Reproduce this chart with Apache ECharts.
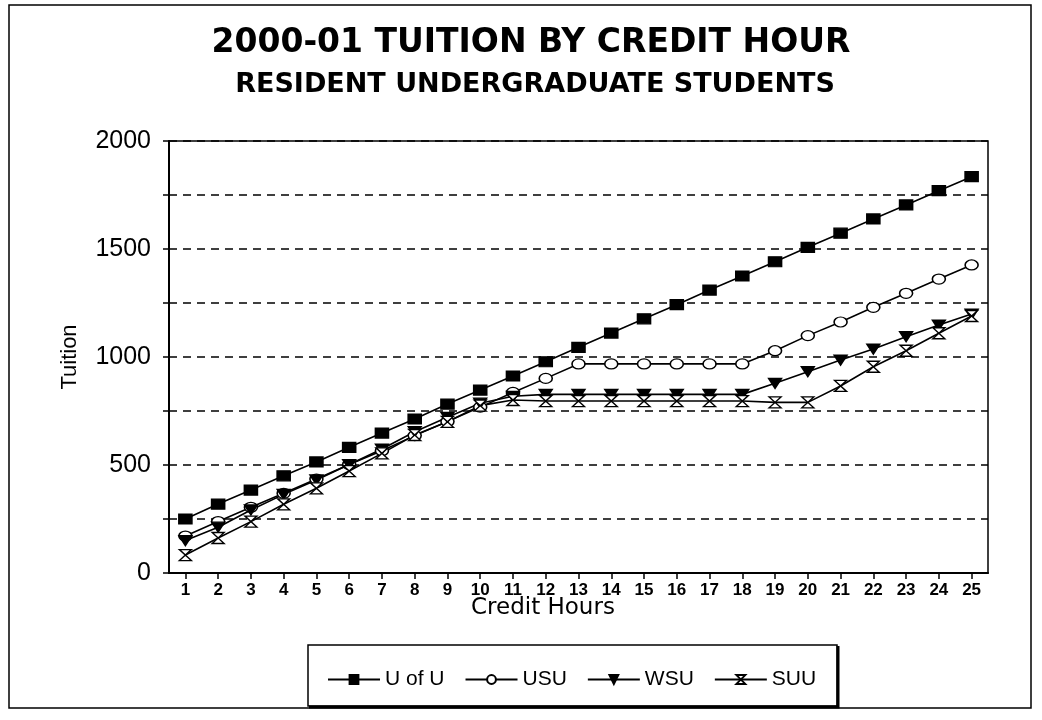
<!DOCTYPE html>
<html>
<head>
<meta charset="utf-8">
<script src="https://cdn.jsdelivr.net/npm/echarts@6/dist/echarts.min.js"></script>
<style>
html,body{margin:0;padding:0;background:#fff;}
#chart{width:1042px;height:720px;}
</style>
</head>
<body>
<div id="chart"></div>
<script>
const creditHours = ['1','2','3','4','5','6','7','8','9','10','11','12','13','14','15','16','17','18','19','20','21','22','23','24','25'];
const uofu = [250,319,384,450,514,582,648,713,782,847,912,978,1045,1111,1177,1242,1310,1375,1441,1508,1573,1639,1704,1770,1835];
const usu  = [171,238,304,369,435,502,566,636,701,768,836,901,968,968,968,968,968,968,1029,1099,1162,1230,1295,1361,1426];
const wsu  = [150,212,292,364,431,502,574,654,721,786,818,827,827,827,827,827,827,827,878,932,986,1037,1094,1148,1199];
const suu  = [83,162,238,318,392,472,554,639,700,775,801,796,796,796,796,796,796,796,790,790,866,955,1029,1110,1190];
const seriesNames = ['U of U','USU','WSU','SUU'];
const yTicks = [0,500,1000,1500,2000];

const chart = echarts.init(document.getElementById('chart'), null, {renderer:'canvas'});

const hourglass = 'path://M0,0 L10,0 L0,10 L10,10 Z';
const triDown = 'path://M0,0 L10,0 L5,9 Z';

function mkSeries(name, data, symbol, size, fill){
  return {
    name: name, type: 'line', data: data,
    symbol: symbol, symbolSize: size, showAllSymbol: true,
    lineStyle: {color:'#000', width:1.6},
    itemStyle: {color: fill, borderColor:'#000', borderWidth: 1.4},
    emphasis: {disabled:true},
    z: 3
  };
}

const option = {
  backgroundColor: '#fff',
  animation: false,
  textStyle: {fontFamily: 'Liberation Sans, Arial, sans-serif', color:'#000'},
  title: [
    {text: '2000-01 TUITION BY CREDIT HOUR', left: 526, textAlign:'center', top: 22,
     textStyle: {fontFamily:'DejaVu Sans', fontWeight:'bold', fontSize:33, color:'#000'}},
    {text: 'RESIDENT UNDERGRADUATE STUDENTS', left: 530, textAlign:'center', top: 66,
     textStyle: {fontFamily:'DejaVu Sans', fontWeight:'bold', fontSize:27, color:'#000'}}
  ],
  grid: {left:169, top:141, right:54, bottom:147, show:true, borderColor:'#000', borderWidth:1.5, backgroundColor:'#fff'},
  legend: {
    data: seriesNames, left: 322, top: 664, itemWidth: 52, itemHeight: 11, itemGap: 20,
    textStyle: {fontFamily:'Liberation Sans', fontSize:21, color:'#000'},
    selectedMode: false
  },
  xAxis: {
    type:'category', data: creditHours, boundaryGap:true,
    axisLine:{lineStyle:{color:'#000', width:2}},
    axisTick:{show:true, alignWithLabel:true, length:6, lineStyle:{color:'#000', width:1.5}},
    axisLabel:{color:'#000', fontFamily:'Liberation Sans', fontWeight:'bold', fontSize:17, margin:9},
    splitLine:{show:false}
  },
  yAxis: {
    type:'value', min:0, max:2000, interval:250,
    name:'Tuition', nameLocation:'middle', nameGap:88, nameRotate:90,
    nameTextStyle:{fontFamily:'Liberation Sans', fontSize:22, color:'#000'},
    axisLine:{show:true, lineStyle:{color:'#000', width:2}},
    axisTick:{show:true, length:6, lineStyle:{color:'#000', width:1.5}},
    axisLabel:{color:'#000', fontFamily:'Liberation Sans', fontSize:25, margin:18,
      formatter: v => yTicks.indexOf(v) >= 0 ? String(v) : ''},
    splitLine:{show:true, lineStyle:{color:'#000', width:1.5, type:[8,6]}}
  },
  series: [
    mkSeries('U of U', uofu, 'rect', [13,10], '#000'),
    mkSeries('USU', usu, 'circle', [13,10], '#fff'),
    mkSeries('WSU', wsu, triDown, [13,10], '#000'),
    mkSeries('SUU', suu, hourglass, [12,11], '#fff')
  ],
  graphic: [
    {type:'rect', shape:{x:9, y:5, width:1022, height:703}, style:{fill:'none', stroke:'#000', lineWidth:1.5}, silent:true, z:-1},
    {type:'text', left: 471, top: 597, style:{text:'Credit Hours', font:'23px "DejaVu Sans"', fill:'#000'}},
    {type:'rect', shape:{x:308, y:645, width:529, height:61}, style:{fill:'none', stroke:'#000', lineWidth:1.5}, silent:true, z:-1},
    {type:'polyline', shape:{points:[[838,646],[838,707],[309,707]]}, style:{fill:'none', stroke:'#000', lineWidth:3}, silent:true, z:-1}
  ]
};
chart.setOption(option);
</script>
</body>
</html>
